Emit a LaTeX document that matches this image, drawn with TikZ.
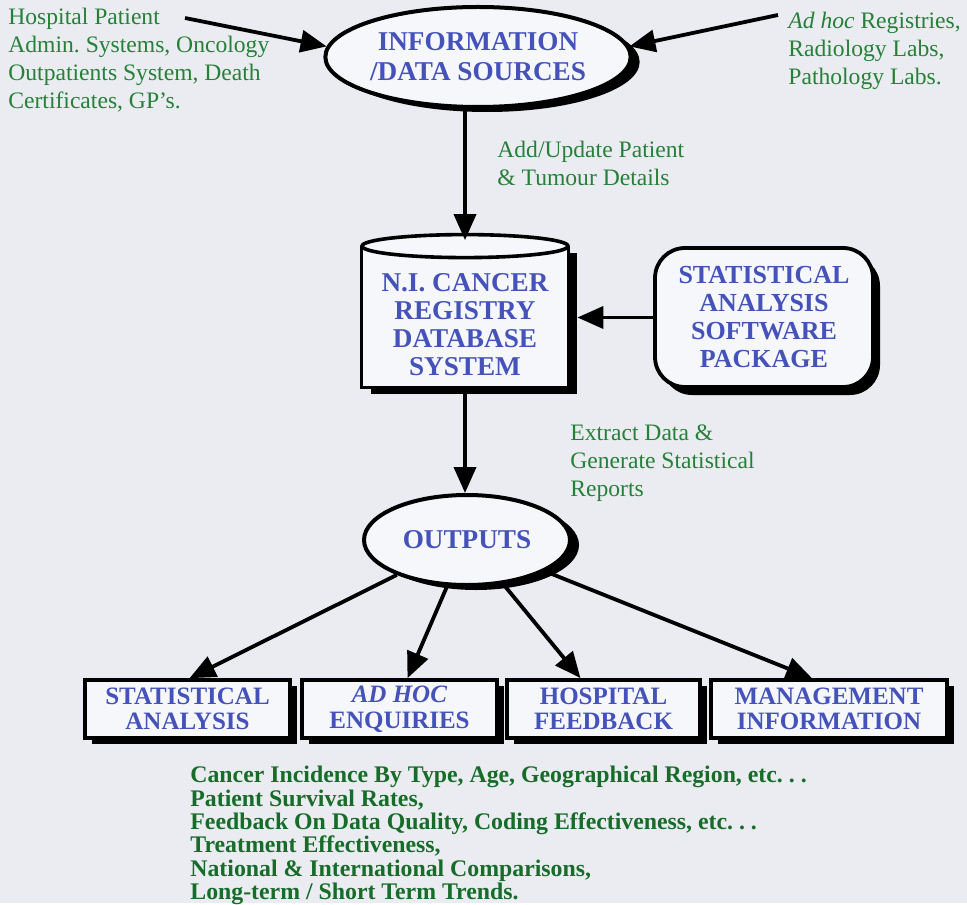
\documentclass[tikz,border=0pt]{standalone}
\usepackage{fontspec}
\setmainfont{Liberation Serif}
\usetikzlibrary{shapes.geometric,shadows,arrows.meta}
\definecolor{paper}{RGB}{234,236,242}
\definecolor{boxfill}{RGB}{246,247,251}
\definecolor{titleblue}{RGB}{68,82,186}
\definecolor{notegreen}{RGB}{38,128,56}
\definecolor{listgreen}{RGB}{22,108,40}

\begin{document}
\frenchspacing
\begin{tikzpicture}[x=0.5pt,y=-0.5pt,
  bluetitle/.style={font=\fontsize{13.6}{15}\selectfont\bfseries,text=titleblue,align=center},
  oval/.style={draw,ellipse,line width=2pt,fill=boxfill,inner sep=0pt,
    general shadow={fill=black,shadow xshift=4.5pt,shadow yshift=-2.5pt}},
  outbox/.style={draw,rectangle,line width=1.8pt,fill=boxfill,minimum height=29pt,inner sep=0pt,
    font=\fontsize{12.5}{12.8}\selectfont\bfseries,text=titleblue,align=center,
    general shadow={fill=black,shadow xshift=3.5pt,shadow yshift=-3pt}},
  greennote/.style={font=\fontsize{11.8}{14}\selectfont,text=notegreen,align=left,
    anchor=north west,inner sep=0pt},
  arr/.style={line width=1.9pt,-{Triangle[length=13pt,width=11pt]}}]
\fill[paper] (0,0) rectangle (967,903);

% sources
\node[oval,bluetitle,minimum width=146pt,minimum height=50pt] (src) at (478,57) {INFORMATION\\/DATA SOURCES};
\node[greennote] (hosp) at (8,8) {Hospital Patient\\Admin. Systems, Oncology\\Outpatients System, Death\\Certificates, GP's.};
\node[greennote] (adhoc) at (788,12) {\textit{Ad hoc} Registries,\\Radiology Labs,\\Pathology Labs.};
\coordinate (hpin) at (185,18);
\coordinate (adin) at (778,15);
\draw[arr] (hpin) -- (src.176);
\draw[arr] (adin) -- (src.4);

% registry database
\node[fill=boxfill,minimum width=103pt,minimum height=70.25pt,inner sep=0pt,
  general shadow={fill=black,shadow xshift=4.5pt,shadow yshift=-3.5pt}] (db) at (465,316.75) {};
\draw[line width=1.8pt] (db.north west) -- (db.south west) -- (db.south east) -- (db.north east);
\draw[line width=1.8pt,fill=boxfill] (db.north) ellipse (51.5pt and 5.75pt);
\node[bluetitle,font=\fontsize{13.6}{14}\selectfont\bfseries] (dbtext) at (465,325) {N.I. CANCER\\REGISTRY\\DATABASE\\SYSTEM};
\node[greennote] (upd) at (497,141) {Add/Update Patient\\\& Tumour Details};
\draw[arr] (src.south -| db.north) -- ([yshift=3pt]db.north);

\node[draw,rounded corners=15pt,line width=1.9pt,fill=boxfill,minimum width=109pt,minimum height=69.5pt,
  general shadow={fill=black,shadow xshift=3.5pt,shadow yshift=-4pt},
  bluetitle,font=\fontsize{13}{14}\selectfont\bfseries] (soft) at (764,317.5) {STATISTICAL\\ANALYSIS\\SOFTWARE\\PACKAGE};
\draw[arr,shorten >=4.5pt] (soft.west) -- (db.east |- soft.west);

% outputs
\node[oval,bluetitle,minimum width=103pt,minimum height=45pt] (out) at (467,540) {OUTPUTS};
\node[greennote] (extr) at (570,424) {Extract Data \&\\Generate Statistical\\Reports};
\draw[arr] (db.south) -- (db.south |- out.north);

\node[outbox,minimum width=102.5pt] (stat) at (187.5,709) {STATISTICAL\\ANALYSIS};
\node[outbox,minimum width=97.5pt] (enq) at (399.5,709) {\textit{AD HOC}\\ENQUIRIES};
\node[outbox,minimum width=96.5pt] (feed) at (603.5,709) {HOSPITAL\\FEEDBACK};
\node[outbox,minimum width=118pt] (mgmt) at (829,709) {MANAGEMENT\\INFORMATION};
\draw[arr] (out) -- ([xshift=1pt]stat.north);
\draw[arr] (out) -- ([xshift=4pt]enq.north);
\draw[arr] (out) -- ([xshift=-11.5pt]feed.north);
\draw[arr] (out) -- ([xshift=-8.5pt]mgmt.north);

\node[anchor=north west,inner sep=0pt,align=left,font=\fontsize{11.9}{11.65}\selectfont\bfseries,text=listgreen] (list) at (190,766)
  {Cancer Incidence By Type, Age, Geographical Region, etc.\ .\ .\\
   Patient Survival Rates,\\
   Feedback On Data Quality, Coding Effectiveness, etc.\ .\ .\\
   Treatment Effectiveness,\\
   National \& International Comparisons,\\
   Long-term / Short Term Trends.};
\end{tikzpicture}
\end{document}
